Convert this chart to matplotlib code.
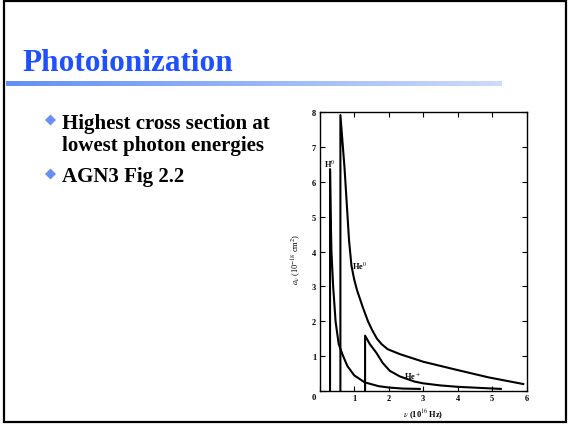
import numpy as np
import matplotlib
matplotlib.use("Agg")
import matplotlib.pyplot as plt
from matplotlib.patches import Rectangle, Polygon

plt.rcParams['font.family'] = ['Liberation Serif', 'DejaVu Serif']
plt.rcParams['mathtext.fontset'] = 'stix'

# ---- data ----
h0_nu = [0.30, 0.30, 0.32, 0.34, 0.39, 0.46, 0.55, 0.66, 0.80, 1.00, 1.30, 1.70, 2.00, 2.40, 2.90]
h0_sigma = [0.0, 6.37, 5.0, 4.0, 3.0, 2.0, 1.35, 1.05, 0.72, 0.45, 0.25, 0.14, 0.10, 0.07, 0.06]

he0_nu = [0.60, 0.60, 0.72, 0.85, 0.92, 1.00, 1.08, 1.25, 1.40, 1.52, 1.66, 1.80, 1.97, 2.32, 3.0, 4.0, 4.9, 5.9]
he0_sigma = [0.0, 7.92, 6.4, 4.33, 3.6, 3.2, 2.9, 2.4, 2.0, 1.75, 1.5, 1.34, 1.2, 1.06, 0.84, 0.60, 0.39, 0.20]

hep_nu = [1.315, 1.315, 1.45, 1.64, 1.83, 2.03, 2.32, 2.75, 3.0, 3.5, 4.0, 5.25]
hep_sigma = [0.0, 1.59, 1.35, 1.1, 0.8, 0.58, 0.42, 0.27, 0.22, 0.16, 0.12, 0.06]

x_ticks = [0, 1, 2, 3, 4, 5, 6]
y_ticks = [0, 1, 2, 3, 4, 5, 6, 7, 8]
curve_labels = [("H$^0$", 0.30, 6.55), ("He$^0$", 1.15, 3.62), ("He$^+$", 2.70, 0.46)]

title = "Photoionization"
bullet_lines = ["Highest cross section at", "lowest photon energies", "AGN3 Fig 2.2"]

W, H = 573, 427
fig = plt.figure(figsize=(W / 100, H / 100), dpi=100)
fig.patch.set_facecolor('white')

def fx(x):
    return x / W

def fy(y):
    return 1 - y / H

# slide border
fig.patches.append(Rectangle((fx(4), fy(423)), fx(566) - fx(4), fy(2) - fy(423),
                             transform=fig.transFigure, fill=False, edgecolor='black',
                             linewidth=1.6))

# title
fig.text(fx(22), fy(71), title, color='#1f50ff', fontsize=22.5, fontweight='bold',
         va='baseline', ha='left')

# gradient rule
gax = fig.add_axes([fx(6), fy(87), fx(502) - fx(6), fy(82) - fy(87)])
c0 = np.array([0x62, 0x90, 0xf4]) / 255
c1 = np.array([0xcd, 0xdb, 0xfc]) / 255
t = np.linspace(0, 1, 256)[None, :, None]
grad = c0[None, None, :] * (1 - t) + c1[None, None, :] * t
gax.imshow(grad, aspect='auto', extent=[0, 1, 0, 1])
gax.set_axis_off()

# bullets
def diamond(cx, cy, r=5.5):
    pts = [(fx(cx), fy(cy - r)), (fx(cx + r), fy(cy)), (fx(cx), fy(cy + r)), (fx(cx - r), fy(cy))]
    fig.patches.append(Polygon(pts, closed=True, transform=fig.transFigure,
                               facecolor='#6a8ff2', edgecolor='none'))

bfs = 15
diamond(50.5, 121)
fig.text(fx(62), fy(128.5), bullet_lines[0], fontsize=bfs, fontweight='bold', va='baseline', ha='left')
fig.text(fx(62), fy(150.5), bullet_lines[1], fontsize=bfs, fontweight='bold', va='baseline', ha='left')
diamond(50.5, 175)
fig.text(fx(62), fy(182), bullet_lines[2], fontsize=bfs, fontweight='bold', va='baseline', ha='left')

# chart
ax = fig.add_axes([fx(319.7), fy(392), fx(526.7) - fx(319.7), fy(113.3) - fy(392)])
lw = 1.5
for xs, ys in [(h0_nu, h0_sigma), (he0_nu, he0_sigma), (hep_nu, hep_sigma)]:
    ax.plot(xs, ys, color='black', lw=lw, solid_joinstyle='round')
ax.set_xlim(0, 6)
ax.set_ylim(0, 8)
ax.set_xticks(x_ticks)
ax.set_yticks(y_ticks)
ax.set_xticklabels([''] + [str(v) for v in x_ticks[1:]])
ax.set_yticklabels([''] + [str(v) for v in y_ticks[1:]])
ax.tick_params(direction='in', length=3.5, width=0.8, top=True, right=True,
               labelsize=6, pad=2.5)
for lab in ax.get_xticklabels() + ax.get_yticklabels():
    lab.set_fontweight('bold')
for s in ax.spines.values():
    s.set_linewidth(1.0)
for txt, xx, yy in curve_labels:
    ax.text(xx, yy, txt, fontsize=6, fontweight='bold', ha='center', va='center')

fig.text(fx(314), fy(398), "0", fontsize=6, fontweight='bold', ha='center', va='center')
fig.text(fx(296), fy(259), r"$a_\nu$ (10$^{-18}$ cm$^2$)", fontsize=6, rotation=90,
         ha='center', va='center')
fig.text(fx(423), fy(414), r"$\nu$ (10$^{16}$ Hz)", fontsize=6, fontweight='bold',
         ha='center', va='center')

fig.savefig("out.png", dpi=100)
